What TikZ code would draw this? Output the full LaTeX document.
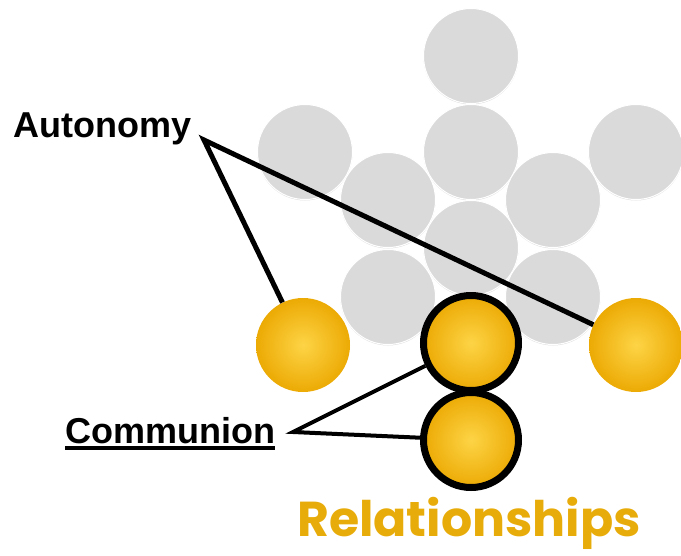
\documentclass[tikz,border=0pt]{standalone}
\usepackage{fontspec}
\setmainfont{Liberation Sans}
\newfontfamily\relfont{Poppins}
\usetikzlibrary{positioning}
\usetikzlibrary{shadows}
\definecolor{discgray}{RGB}{218,218,218}
\definecolor{goldA}{RGB}{253,212,70}
\definecolor{goldB}{RGB}{236,170,4}
\definecolor{relgold}{RGB}{232,172,10}

\begin{document}
\begin{tikzpicture}[x=1pt,y=-1pt,
 disc/.style={circle,minimum size=95pt,inner sep=0pt,fill=discgray,draw=white,line width=1pt,drop shadow={shadow xshift=0pt,shadow yshift=-1pt,opacity=0.25}},
 ball/.style={circle,minimum size=94pt,inner sep=0pt,inner color=goldA,outer color=goldB},
 ring/.style={ball,minimum size=95pt,draw=black,line width=7pt},
 lbl/.style={inner sep=0pt,font=\fontsize{36}{40}\selectfont\bfseries}]
 \useasboundingbox (0,0) rectangle (681,555);
 % gray discs
 \node[disc] (top) at (471,56) {};
 \node[disc] (l2) at (305,152) {};
 \node[disc] (m2) at (471,152) {};
 \node[disc] (r2) at (636,152) {};
 \node[disc] (l3) at (388,200) {};
 \node[disc] (r3) at (553,200) {};
 \node[disc] (m4) at (471,248) {};
 \node[disc] (l5) at (388,297) {};
 \node[disc] (r5) at (553,297) {};
 % yellow balls
 \node[ball] (yl) at (303,345) {};
 \node[ball] (yr) at (636,345) {};
 \node[ring] (ym) at (471,343) {};
 \node[ring] (yb) at (471,440) {};
 % labels
 \node[lbl,anchor=base west] (auto) at (13,137) {Autonomy};
 \node[lbl,anchor=base west] (comm) at (65,443) {Communion};
 \draw[line width=3.5pt] ([yshift=-5pt]comm.base west) -- ([yshift=-5pt]comm.base east);
 \node[anchor=base,inner sep=0pt,text=relgold,font=\relfont\bfseries\fontsize{49}{54}\selectfont] (rel) at (469,536) {Relationships};
 \coordinate (aj) at (204,140);
 \coordinate (cj) at (293,432);
 \draw[line width=5pt] (yl) -- (aj) -- (yr);
 \draw[line width=4pt] (ym) -- (cj) -- (yb);
\end{tikzpicture}
\end{document}
